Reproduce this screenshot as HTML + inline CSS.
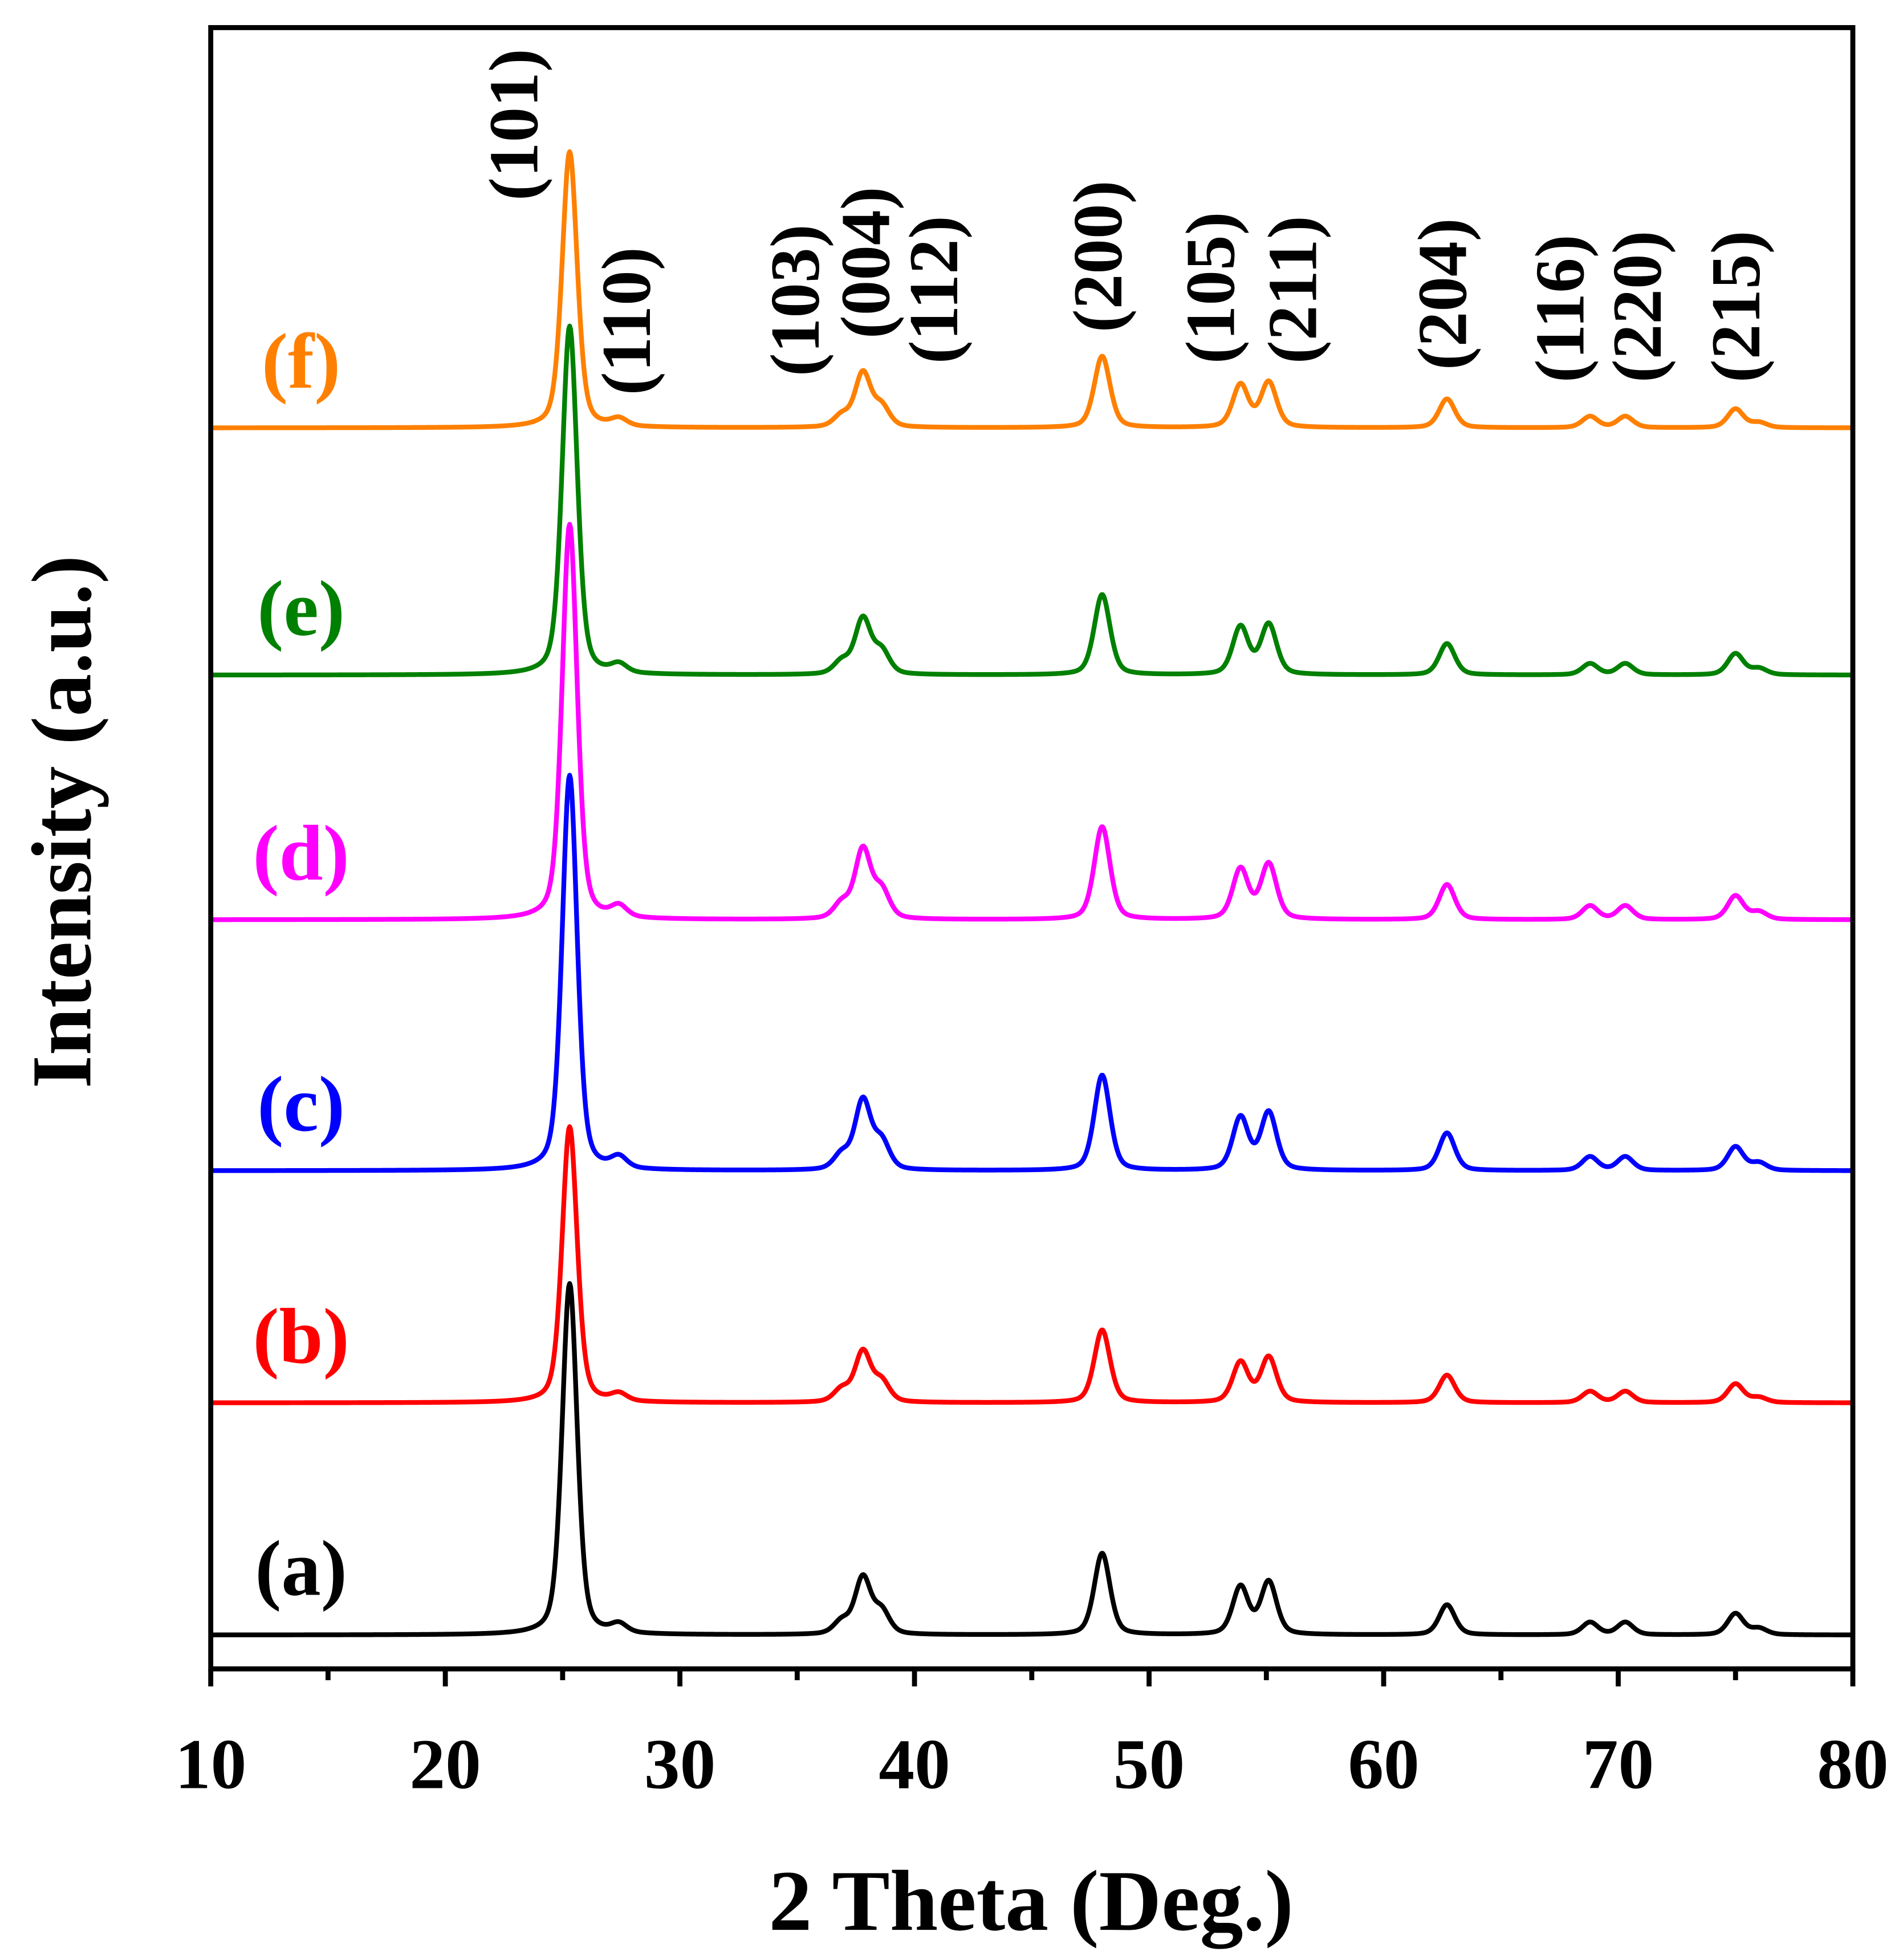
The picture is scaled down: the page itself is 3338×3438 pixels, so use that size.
<!DOCTYPE html>
<html><head><meta charset="utf-8">
<style>html,body{margin:0;padding:0;background:#fff;}svg{display:block;}</style>
</head><body>
<svg id="chart" width="3338" height="3438" viewBox="0 0 1517 1562" preserveAspectRatio="none" xmlns="http://www.w3.org/2000/svg" font-family="'Liberation Serif', serif" font-weight="bold">
<rect x="0" y="0" width="1517" height="1562" fill="#fff"/>
<g id="series"></g>
<g id="labels"></g>
<rect x="168" y="22" width="1309" height="1308" fill="none" stroke="#000" stroke-width="4"/>
<g id="xaxis"></g>
<text x="822" y="1538" font-size="69" text-anchor="middle">2 Theta (Deg.)</text>
<text transform="translate(72,655) rotate(-90)" font-size="68" text-anchor="middle">Intensity (a.u.)</text>
<script>
const peakPositions = [25.3, 27.4, 36.9, 37.8, 38.6, 48.0, 53.9, 55.1, 62.7, 68.8, 70.3, 75.0, 76.0];
const seriesNames = ["(a)", "(b)", "(c)", "(d)", "(e)", "(f)"];
const seriesColors = ["#000000", "#ff0000", "#0000ff", "#ff00ff", "#008000", "#ff8000"];
const seriesOffsets = [27, 212, 397, 597, 792, 989];
const heightsA = [280, 7, 10, 45, 18, 65, 38, 42, 24, 10, 10, 17, 5];
const heightsB = [220, 6, 10, 40, 16, 58, 32, 36, 22, 9, 9, 15, 4];
const heightsC = [315, 9, 12, 55, 22, 76, 42, 46, 30, 11, 11, 19, 6];
const heightsD = [315, 9, 12, 55, 22, 74, 40, 44, 28, 11, 11, 19, 6];
const heightsE = [278, 7, 10, 44, 18, 64, 38, 40, 25, 9, 9, 17, 5];
const heightsF = [220, 6, 9, 43, 16, 57, 34, 36, 23, 9, 9, 15, 4];
const seriesHeights = [heightsA, heightsB, heightsC, heightsD, heightsE, heightsF];
const xTicks = [10, 20, 30, 40, 50, 60, 70, 80];
const hklLabels = ["(101)", "(110)", "(103)", "(004)", "(112)", "(200)", "(105)", "(211)", "(204)", "(116)", "(220)", "(215)"];
const hklPos = [22.9, 27.7, 34.9, 37.9, 40.8, 47.8, 52.6, 56.1, 62.5, 67.5, 70.8, 75.0];
const hklBottom = [160, 315, 300, 270, 290, 265, 290, 290, 295, 305, 305, 305];

const NS = "http://www.w3.org/2000/svg";
const X0 = 168, X1 = 1477, Y0 = 1330, Y1 = 22;
function sx(v){ return X0 + (v - 10) / 70 * (X1 - X0); }
function sy(v){ return Y0 - v / 1308 * (Y0 - Y1); }
function profile(x, hs){
  let s = 0;
  for (let i = 0; i < peakPositions.length; i++){
    const w = i === 0 ? 0.38 : 0.4;
    const d = (x - peakPositions[i]) / w;
    s += hs[i] * (0.6 * Math.exp(-0.693 * d * d) + 0.4 / (1 + d * d));
  }
  return s;
}
const gS = document.getElementById("series");
seriesHeights.forEach((hs, k) => {
  let d = "";
  for (let x = 10.1; x <= 80.0001; x += 0.04){
    const v = seriesOffsets[k] + profile(x, hs);
    d += (d ? "L" : "M") + sx(x).toFixed(2) + "," + sy(v).toFixed(2);
  }
  const p = document.createElementNS(NS, "path");
  
  
  p.setAttribute("d", d);
  p.setAttribute("fill", "none");
  p.setAttribute("stroke", seriesColors[k]);
  p.setAttribute("stroke-width", "3.8");
  p.setAttribute("stroke-linejoin", "round");
  gS.appendChild(p);
  const t = document.createElementNS(NS, "text");
  
  
  t.setAttribute("x", 240);
  t.setAttribute("y", sy(seriesOffsets[k]) - 32);
  t.setAttribute("font-size", "63");
  t.setAttribute("text-anchor", "middle");
  t.setAttribute("fill", seriesColors[k]);
  t.textContent = seriesNames[k];
  gS.appendChild(t);
});
const gL = document.getElementById("labels");
hklLabels.forEach((lab, i) => {
  const t = document.createElementNS(NS, "text");
  
  
  const cx = sx(hklPos[i]) + 19;
  t.setAttribute("transform", "translate(" + cx + "," + hklBottom[i] + ") rotate(-90)");
  t.setAttribute("font-size", "56");
  t.textContent = lab;
  gL.appendChild(t);
});
const gX = document.getElementById("xaxis");
for (let v = 10; v <= 80; v += 5){
  const l = document.createElementNS(NS, "line");
  
  
  l.setAttribute("x1", sx(v)); l.setAttribute("x2", sx(v));
  l.setAttribute("y1", Y0); l.setAttribute("y2", Y0 + (v % 10 === 0 ? 14 : 9));
  l.setAttribute("stroke", "#000"); l.setAttribute("stroke-width", "4");
  gX.appendChild(l);
}
xTicks.forEach(v => {
  const t = document.createElementNS(NS, "text");
  
  
  t.setAttribute("x", sx(v)); t.setAttribute("y", 1425);
  t.setAttribute("font-size", "57"); t.setAttribute("text-anchor", "middle");
  t.textContent = v;
  gX.appendChild(t);
});
</script>
</svg>
</body></html>
